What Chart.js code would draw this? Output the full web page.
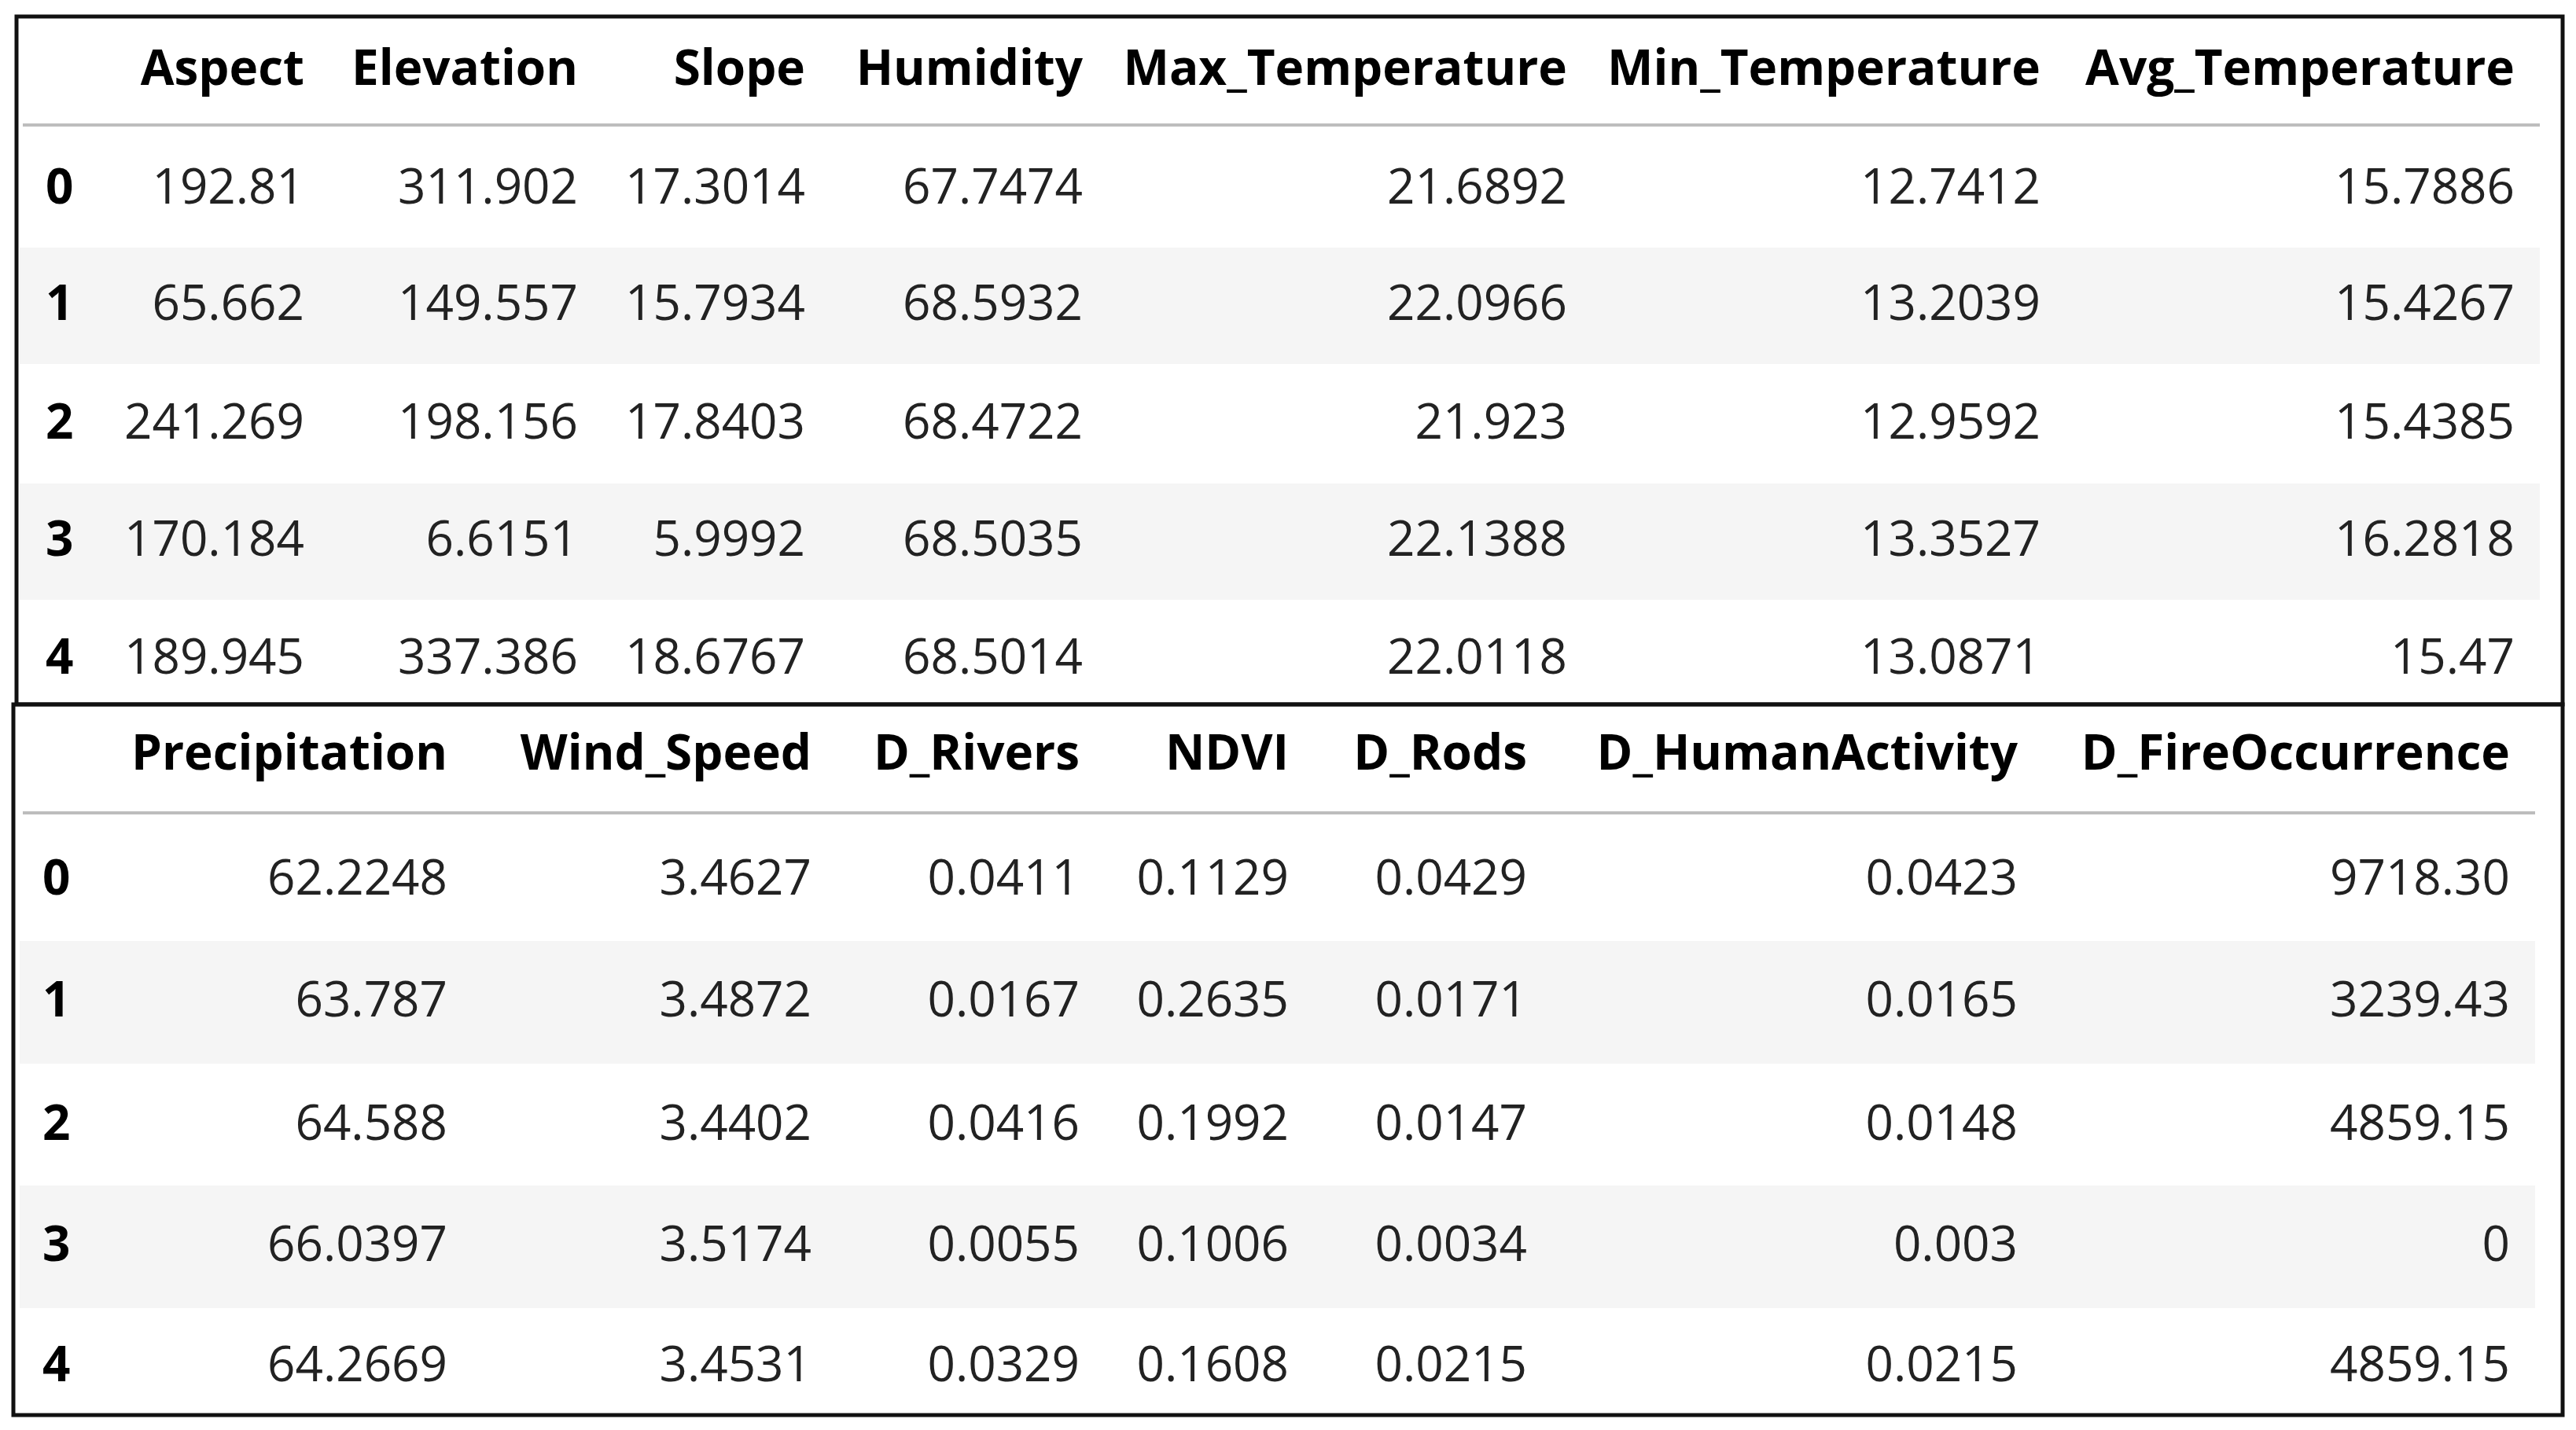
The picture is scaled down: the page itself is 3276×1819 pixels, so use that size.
<!DOCTYPE html>
<html>
<head>
<meta charset="utf-8">
<script src="https://cdn.jsdelivr.net/npm/chart.js@4"></script>
<style>
  html, body { margin: 0; padding: 0; background: #fff; }
  #wrap { width: 3276px; height: 1819px; }
</style>
</head>
<body>
<div id="wrap"><canvas id="tableChart"></canvas></div>
<script>
// table data
const rowIndex = ["0", "1", "2", "3", "4"];

const topColumns = ["Aspect", "Elevation", "Slope", "Humidity", "Max_Temperature", "Min_Temperature", "Avg_Temperature"];
const topRows = [
    ["192.81", "311.902", "17.3014", "67.7474", "21.6892", "12.7412", "15.7886"],
    ["65.662", "149.557", "15.7934", "68.5932", "22.0966", "13.2039", "15.4267"],
    ["241.269", "198.156", "17.8403", "68.4722", "21.923", "12.9592", "15.4385"],
    ["170.184", "6.6151", "5.9992", "68.5035", "22.1388", "13.3527", "16.2818"],
    ["189.945", "337.386", "18.6767", "68.5014", "22.0118", "13.0871", "15.47"]
];

const bottomColumns = ["Precipitation", "Wind_Speed", "D_Rivers", "NDVI", "D_Rods", "D_HumanActivity", "D_FireOccurrence"];
const bottomRows = [
    ["62.2248", "3.4627", "0.0411", "0.1129", "0.0429", "0.0423", "9718.30"],
    ["63.787", "3.4872", "0.0167", "0.2635", "0.0171", "0.0165", "3239.43"],
    ["64.588", "3.4402", "0.0416", "0.1992", "0.0147", "0.0148", "4859.15"],
    ["66.0397", "3.5174", "0.0055", "0.1006", "0.0034", "0.003", "0"],
    ["64.2669", "3.4531", "0.0329", "0.1608", "0.0215", "0.0215", "4859.15"]
];

// layout (in scale units = page pixels)
const topLayout = {
    box: [21, 21, 3259, 896], headerY: 90, dividerY: 159, stripeX: [25, 3230],
    rowY: [241, 389, 540, 689, 839], rowH: 148, indexX: 58,
    colRight: [387, 735, 1024, 1377, 1993, 2595, 3198]
};
const bottomLayout = {
    box: [17, 896, 3259, 1800], headerY: 961, dividerY: 1034, stripeX: [25, 3224],
    rowY: [1120, 1275, 1432, 1586, 1739], rowH: 156, indexX: 54,
    colRight: [569, 1032, 1373, 1639, 1942, 2566, 3192]
};

const FONT = '"Open Sans", "Noto Sans", sans-serif';

function drawTable(chart, cols, rows, L) {
    const ctx = chart.ctx;
    const sx = chart.scales.x, sy = chart.scales.y;
    const px = v => sx.getPixelForValue(v);
    const py = v => sy.getPixelForValue(v);

    // stripes
    ctx.fillStyle = '#f5f5f5';
    rows.forEach((r, i) => {
        if (i % 2 === 1) {
            ctx.fillRect(px(L.stripeX[0]), py(L.rowY[i] - L.rowH / 2),
                px(L.stripeX[1]) - px(L.stripeX[0]), L.rowH);
        }
    });

    // header divider
    ctx.strokeStyle = '#bdbdbd';
    ctx.lineWidth = 4;
    ctx.beginPath();
    ctx.moveTo(px(L.stripeX[0] + 4), py(L.dividerY));
    ctx.lineTo(px(L.stripeX[1]), py(L.dividerY));
    ctx.stroke();

    ctx.textBaseline = 'middle';
    ctx.fillStyle = '#000';
    ctx.font = 'bold 62px ' + FONT;
    ctx.textAlign = 'right';
    cols.forEach((c, j) => ctx.fillText(c, px(L.colRight[j]), py(L.headerY)));

    rows.forEach((r, i) => {
        ctx.font = 'bold 62px ' + FONT;
        ctx.textAlign = 'left';
        ctx.fillStyle = '#000';
        ctx.fillText(rowIndex[i], px(L.indexX), py(L.rowY[i]));
        ctx.font = '62px ' + FONT;
        ctx.textAlign = 'right';
        ctx.fillStyle = '#222';
        r.forEach((v, j) => ctx.fillText(v, px(L.colRight[j]), py(L.rowY[i])));
    });

    // outer box
    ctx.strokeStyle = '#111';
    ctx.lineWidth = 5;
    ctx.strokeRect(px(L.box[0]), py(L.box[1]), px(L.box[2]) - px(L.box[0]), py(L.box[3]) - py(L.box[1]));
}

const tablePlugin = {
    id: 'tablePlugin',
    afterDraw(chart) {
        drawTable(chart, topColumns, topRows, topLayout);
        drawTable(chart, bottomColumns, bottomRows, bottomLayout);
    }
};

new Chart("tableChart", {
    type: "scatter",
    data: { datasets: [{ data: [] }] },
    options: {
        responsive: true,
        maintainAspectRatio: false,
        animation: false,
        layout: { padding: 0 },
        plugins: { legend: { display: false }, tooltip: { enabled: false } },
        scales: {
            x: { type: 'linear', min: 0, max: 3276, display: false },
            y: { type: 'linear', min: 0, max: 1819, reverse: true, display: false }
        }
    },
    plugins: [tablePlugin]
});
</script>
</body>
</html>
